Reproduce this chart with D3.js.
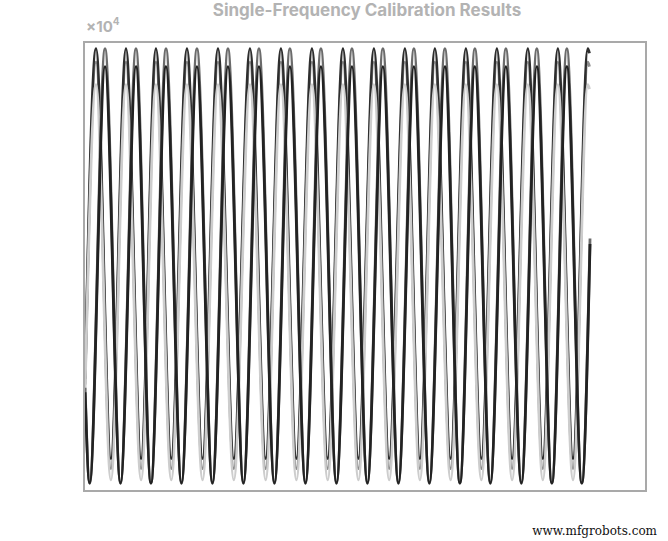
<!DOCTYPE html>
<html>
<head>
<meta charset="utf-8">
<script src="https://cdn.jsdelivr.net/npm/d3@7"></script>
<style>
  body { margin: 0; background: #fff; }
  svg { display: block; }
</style>
</head>
<body>
<div id="chart"></div>
<script>
// time (ms) of each turning point
const timesA = [0.2, 2.19, 4.9, 7.65, 10.4, 13.11, 15.9, 18.76, 21.6, 24.41, 27.3, 30.24, 33.1, 35.88, 38.7, 41.53, 44.4, 47.18, 50.0, 52.82, 55.6, 58.47, 61.2, 63.93, 66.8, 69.58, 72.4, 75.23, 78.0, 80.87, 83.6, 86.34, 89.1, 91.8, 92.1];
const timesB = [0.2, 1.03, 3.83, 6.65, 9.47, 12.2, 14.94, 17.76, 20.58, 23.4, 26.23, 29.05, 31.88, 34.7, 37.52, 40.35, 43.17, 46.0, 48.82, 51.64, 54.46, 57.29, 60.11, 62.93, 65.76, 68.49, 71.22, 74.04, 76.87, 79.69, 82.51, 85.25, 87.98, 90.7, 92.2];

// values (x10^4) at those times
const lightA = [-1.10, 1.62, -1.90, 1.62, -1.90, 1.62, -1.90, 1.62, -1.90, 1.62, -1.90, 1.62, -1.90, 1.62, -1.90, 1.62, -1.90, 1.62, -1.90, 1.62, -1.90, 1.62, -1.90, 1.62, -1.90, 1.62, -1.90, 1.62, -1.90, 1.62, -1.90, 1.62, -1.90, 1.62, 1.58];
const greyA = [-1.05, 1.82, -1.80, 1.82, -1.80, 1.82, -1.80, 1.82, -1.80, 1.82, -1.80, 1.82, -1.80, 1.82, -1.80, 1.82, -1.80, 1.82, -1.80, 1.82, -1.80, 1.82, -1.80, 1.82, -1.80, 1.82, -1.80, 1.82, -1.80, 1.82, -1.80, 1.82, -1.80, 1.82, 1.78];
const blackA = [-1.00, 1.94, -1.71, 1.94, -1.71, 1.94, -1.71, 1.94, -1.71, 1.94, -1.71, 1.94, -1.71, 1.94, -1.71, 1.94, -1.71, 1.94, -1.71, 1.94, -1.71, 1.94, -1.71, 1.94, -1.71, 1.94, -1.71, 1.94, -1.71, 1.94, -1.71, 1.94, -1.71, 1.94, 1.90];
const greyB = [-1.08, -1.93, 1.94, -1.93, 1.94, -1.93, 1.94, -1.93, 1.94, -1.93, 1.94, -1.93, 1.94, -1.93, 1.94, -1.93, 1.94, -1.93, 1.94, -1.93, 1.94, -1.93, 1.94, -1.93, 1.94, -1.93, 1.94, -1.93, 1.94, -1.93, 1.94, -1.93, 1.94, -1.93, 0.25];
const blackB = [-1.12, -1.93, 1.78, -1.93, 1.78, -1.93, 1.78, -1.93, 1.78, -1.93, 1.78, -1.93, 1.78, -1.93, 1.78, -1.93, 1.78, -1.93, 1.78, -1.93, 1.78, -1.93, 1.78, -1.93, 1.78, -1.93, 1.78, -1.93, 1.78, -1.93, 1.78, -1.93, 1.78, -1.93, 0.20];

const series = [
  { times: timesA, values: greyA, color: "#8c8c8c" },
  { times: timesA, values: blackA, color: "#2e2e2e" },
  { times: timesA, values: lightA, color: "#cdcdcd" },
  { times: timesB, values: greyB, color: "#6b6b6b" },
  { times: timesB, values: blackB, color: "#222222" }
];

const width = 668;
const height = 541;
const margin = { top: 42, right: 22, bottom: 50, left: 84 };

const svg = d3.select("#chart")
  .append("svg")
  .attr("width", width)
  .attr("height", height);

const xScale = d3.scaleLinear()
  .domain([0, 102.4])
  .range([margin.left, width - margin.right]);

const yScale = d3.scaleLinear()
  .domain([-2, 2])
  .range([height - margin.bottom, margin.top]);

const line = d3.line()
  .x(d => xScale(d[0]))
  .y(d => yScale(d[1]))
  .curve(d3.curveMonotoneX);

//lines
svg.append("g")
  .selectAll("path")
  .data(series)
  .enter()
  .append("path")
  .attr("d", s => line(d3.zip(s.times, s.values)))
  .attr("fill", "none")
  .attr("stroke", s => s.color)
  .attr("stroke-width", 2.8);

//frame
svg.append("rect")
  .attr("x", margin.left)
  .attr("y", margin.top)
  .attr("width", width - margin.left - margin.right)
  .attr("height", height - margin.top - margin.bottom)
  .attr("fill", "none")
  .attr("stroke", "#a9a9a9")
  .attr("stroke-width", 2);

//title
svg.append("text")
  .attr("x", 367)
  .attr("y", 16)
  .attr("text-anchor", "middle")
  .attr("font-family", "Inter, Roboto, sans-serif")
  .attr("font-weight", "bold")
  .attr("font-size", 17)
  .attr("fill", "#b3b3b3")
  .text("Single-Frequency Calibration Results");

//exponent label
const expo = svg.append("text")
  .attr("x", 86)
  .attr("y", 32)
  .attr("font-family", "Inter, Roboto, sans-serif")
  .attr("font-weight", "bold")
  .attr("font-size", 15)
  .attr("fill", "#b3b3b3");
expo.append("tspan").text("×10");
expo.append("tspan").attr("dy", -7).attr("font-size", 10).text("4");

//watermark
svg.append("text")
  .attr("x", 657)
  .attr("y", 535)
  .attr("text-anchor", "end")
  .attr("font-family", "'DejaVu Serif', serif")
  .attr("font-size", 12)
  .attr("fill", "#111")
  .text("www.mfgrobots.com");
</script>
</body>
</html>
